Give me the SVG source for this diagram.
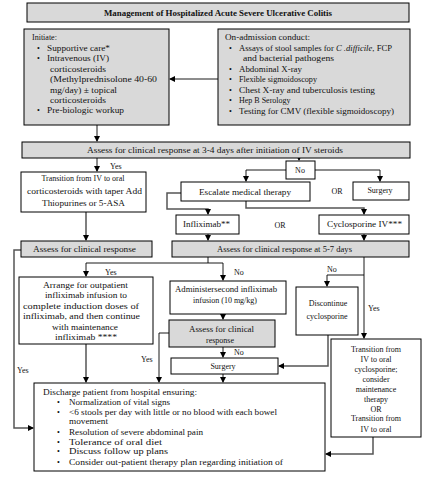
<svg xmlns="http://www.w3.org/2000/svg" width="432" height="477" viewBox="0 0 432 477">
<defs>
<marker id="ah" markerWidth="6" markerHeight="6" refX="5" refY="3" orient="auto" markerUnits="userSpaceOnUse">
<path d="M0,0 L6,3 L0,6 z" fill="#000"/>
</marker>
<style>
text{font-family:"Liberation Serif","DejaVu Serif",serif;font-size:8px;fill:#111}
.c{text-anchor:middle}
.b{font-weight:bold}
.g{fill:#d9d9d9;stroke:#000;stroke-width:1}
.w{fill:#fff;stroke:#000;stroke-width:1}
.ln{fill:none;stroke:#000;stroke-width:0.9}
.gl{fill:none;stroke:#555;stroke-width:1.5}
.a{marker-end:url(#ah)}
</style>
</defs>
<rect width="432" height="477" fill="#fff"/>

<g id="connectors">
<path class="ln a" d="M218,79 H170"/>
<path class="ln a" d="M97,125 V141"/>
<path class="ln a" d="M97,158 V171"/>
<path class="ln a" d="M299,158 V160"/>
<path class="ln a" d="M286,170 H246 V181"/>
<path class="ln a" d="M315,170 H380 V181"/>
<path class="gl a" d="M181,193 H167 V209 H208 V214"/>
<path class="gl a" d="M246,201 V208 H364 V214"/>
<path class="gl a" d="M86,212 V240"/>
<path class="ln a" d="M208,234 V240"/>
<path class="ln a" d="M364,234 V240"/>
<path class="gl a" d="M21,250 H14 V428 H33"/>
<path class="ln" d="M208,257 V263"/>
<path class="ln a" d="M86,263 H223 V280"/>
<path class="ln a" d="M86,263 V276"/>
<path class="ln" d="M364,257 V275"/>
<path class="ln a" d="M364,275 H327 V286"/>
<path class="ln a" d="M364,275 V338"/>
<path class="ln a" d="M223,314 V319"/>
<path class="ln a" d="M169,333 H159 V382"/>
<path class="ln a" d="M223,347 V357"/>
<path class="gl a" d="M328,335 V366 H279"/>
<path class="ln a" d="M223,374 V382"/>
<path class="gl a" d="M86,344 V382"/>
<path class="gl a" d="M373,437 V454 H326"/>
<text x="110" y="169">Yes</text>
<text x="105" y="275">Yes</text>
<text x="234" y="275">No</text>
<text x="327" y="272">No</text>
<text x="368" y="311">Yes</text>
<text x="141" y="362">Yes</text>
<text x="234" y="355">No</text>
<text x="17" y="373">Yes</text>
<text class="c" x="337" y="194">OR</text>
<text class="c" x="280" y="228">OR</text>
</g>

<g id="title">
<rect class="g" x="27" y="3" width="382" height="19"/>
<text class="b" x="104" y="15.5" textLength="228" lengthAdjust="spacingAndGlyphs">Management of Hospitalized Acute Severe Ulcerative Colitis</text>
</g>

<g id="initiate">
<rect class="g" x="24" y="29" width="145" height="96"/>
<text x="32" y="40">Initiate:</text>
<text x="37" y="51">•</text><text x="47" y="51" textLength="63" lengthAdjust="spacingAndGlyphs">Supportive care*</text>
<text x="37" y="61">•</text><text x="47" y="61" textLength="62" lengthAdjust="spacingAndGlyphs">Intravenous (IV)</text>
<text x="50" y="72" textLength="56" lengthAdjust="spacingAndGlyphs">corticosteroids</text>
<text x="50" y="82" textLength="107" lengthAdjust="spacingAndGlyphs">(Methylprednisolone  40-60</text>
<text x="50" y="93" textLength="67" lengthAdjust="spacingAndGlyphs">mg/day) ± topical</text>
<text x="50" y="103" textLength="56" lengthAdjust="spacingAndGlyphs">corticosteroids</text>
<text x="37" y="113">•</text><text x="47" y="113" textLength="77" lengthAdjust="spacingAndGlyphs">Pre-biologic workup</text>
</g>

<g id="admission">
<rect class="g" x="218" y="29" width="192" height="96"/>
<text x="225" y="40" textLength="85" lengthAdjust="spacingAndGlyphs">On-admission conduct:</text>
<text x="229" y="51">•</text><text x="239" y="51" textLength="153" lengthAdjust="spacingAndGlyphs">Assays of stool samples for <tspan font-style="italic">C .difficile</tspan>, FCP</text>
<text x="243" y="61" textLength="91" lengthAdjust="spacingAndGlyphs">and bacterial pathogens</text>
<text x="229" y="72">•</text><text x="239" y="72" textLength="63" lengthAdjust="spacingAndGlyphs">Abdominal X-ray</text>
<text x="229" y="82">•</text><text x="239" y="82" textLength="78" lengthAdjust="spacingAndGlyphs">Flexible sigmoidoscopy</text>
<text x="229" y="93">•</text><text x="239" y="93" textLength="136" lengthAdjust="spacingAndGlyphs">Chest X-ray and tuberculosis testing</text>
<text x="229" y="103">•</text><text x="239" y="103">Hep B Serology</text>
<text x="229" y="114">•</text><text x="239" y="114" textLength="155" lengthAdjust="spacingAndGlyphs">Testing for CMV (flexible sigmoidoscopy)</text>
</g>

<g id="assess34">
<rect class="g" x="22" y="142" width="388" height="16"/>
<text x="87" y="152.5" textLength="256" lengthAdjust="spacingAndGlyphs">Assess for clinical response at 3-4 days after initiation of IV steroids</text>
</g>

<g id="transition-oral">
<rect class="w" x="21" y="172" width="125" height="40"/>
<text class="c" x="83" y="181">Transition from IV to oral</text>
<text x="27" y="193.5" textLength="115" lengthAdjust="spacingAndGlyphs">corticosteroids with taper Add</text>
<text x="42" y="206" textLength="83" lengthAdjust="spacingAndGlyphs">Thiopurines or 5-ASA</text>
</g>

<g id="no-box">
<rect class="w" x="286" y="161" width="29" height="18"/>
<text class="c" x="300" y="172.5">No</text>
</g>

<g id="escalate">
<rect class="w" x="181" y="182" width="129" height="19"/>
<text x="199" y="194.5" textLength="92" lengthAdjust="spacingAndGlyphs">Escalate medical therapy</text>
</g>

<g id="surgery1">
<rect class="w" x="353" y="182" width="56" height="18"/>
<text class="c" x="380" y="192.5">Surgery</text>
</g>

<g id="infliximab">
<rect class="w" x="176" y="215" width="63" height="19"/>
<text x="183" y="227" textLength="47" lengthAdjust="spacingAndGlyphs">Infliximab**</text>
</g>

<g id="cyclosporine">
<rect class="w" x="319" y="215" width="90" height="19"/>
<text x="327" y="227" textLength="75" lengthAdjust="spacingAndGlyphs">Cyclosporine IV***</text>
</g>

<g id="assess-left">
<rect class="g" x="21" y="241" width="131" height="16"/>
<text x="33" y="251.5" textLength="103" lengthAdjust="spacingAndGlyphs">Assess for clinical response</text>
</g>

<g id="assess57">
<rect class="g" x="172" y="241" width="237" height="16"/>
<text x="217" y="251.5" textLength="135" lengthAdjust="spacingAndGlyphs">Assess for clinical response at 5-7 days</text>
</g>

<g id="arrange">
<rect class="w" x="19" y="277" width="134" height="67"/>
<text x="43" y="287.5" textLength="85" lengthAdjust="spacingAndGlyphs">Arrange for outpatient</text>
<text x="45" y="298" textLength="82" lengthAdjust="spacingAndGlyphs">infliximab infusion to</text>
<text x="23" y="308.5" textLength="116" lengthAdjust="spacingAndGlyphs">complete induction doses of</text>
<text x="23" y="319" textLength="117" lengthAdjust="spacingAndGlyphs">infliximab, and then continue</text>
<text x="52" y="329.5" textLength="66" lengthAdjust="spacingAndGlyphs">with maintenance</text>
<text x="55" y="340" textLength="62" lengthAdjust="spacingAndGlyphs">infliximab ****</text>
</g>

<g id="administer">
<rect class="w" x="170" y="281" width="116" height="33"/>
<text x="175" y="292" textLength="102" lengthAdjust="spacingAndGlyphs">Administersecond infliximab</text>
<text class="c" x="225" y="303">infusion (10 mg/kg)</text>
</g>

<g id="assess-mid">
<rect class="g" x="169" y="320" width="106" height="27"/>
<text x="189" y="331.5" textLength="65" lengthAdjust="spacingAndGlyphs">Assess for clinical</text>
<text class="c" x="220" y="342.5">response</text>
</g>

<g id="surgery2">
<rect class="w" x="171" y="358" width="107" height="16"/>
<text class="c" x="223" y="369">Surgery</text>
</g>

<g id="discontinue">
<rect class="w" x="296" y="287" width="62" height="48"/>
<text class="c" x="328" y="305.5">Discontinue</text>
<text class="c" x="327" y="318.5">cyclosporine</text>
</g>

<g id="transition-cyclo">
<rect class="w" x="331" y="339" width="90" height="98"/>
<text class="c" x="376" y="351.5">Transition from</text>
<text class="c" x="376" y="361.5">IV to oral</text>
<text class="c" x="376" y="372">cyclosporine;</text>
<text class="c" x="376" y="382">consider</text>
<text class="c" x="376" y="391.5">maintenance</text>
<text class="c" x="376" y="401.5">therapy</text>
<text class="c" x="376" y="411.5">OR</text>
<text class="c" x="376" y="421">Transition from</text>
<text class="c" x="376" y="431.5">IV to oral</text>
</g>

<g id="discharge">
<rect class="w" x="34" y="383" width="291" height="88"/>
<text x="43" y="394.5" textLength="154" lengthAdjust="spacingAndGlyphs">Discharge patient from hospital ensuring:</text>
<text x="57" y="404.5">•</text><text x="69" y="404.5" textLength="101" lengthAdjust="spacingAndGlyphs">Normalization of vital signs</text>
<text x="57" y="414.5">•</text><text x="69" y="414.5" textLength="208" lengthAdjust="spacingAndGlyphs">&lt;6 stools per day with little or no blood with each bowel</text>
<text x="69" y="423.5" textLength="39" lengthAdjust="spacingAndGlyphs">movement</text>
<text x="57" y="434.5">•</text><text x="69" y="434.5" textLength="134" lengthAdjust="spacingAndGlyphs">Resolution of severe abdominal pain</text>
<text x="57" y="444.5">•</text><text x="69" y="444.5" textLength="93" lengthAdjust="spacingAndGlyphs">Tolerance of oral diet</text>
<text x="57" y="453.5">•</text><text x="69" y="453.5" textLength="99" lengthAdjust="spacingAndGlyphs">Discuss follow up plans</text>
<text x="57" y="464.5">•</text><text x="69" y="464.5" textLength="214" lengthAdjust="spacingAndGlyphs">Consider out-patient therapy plan regarding initiation of</text>
</g>
</svg>
